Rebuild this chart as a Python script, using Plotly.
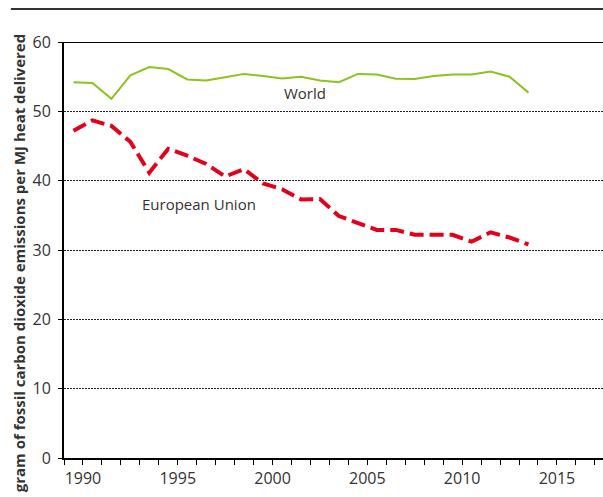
import plotly.graph_objects as go

years = list(range(1990, 2015))
world = [54.2, 54.1, 51.8, 55.2, 56.4, 56.1, 54.6, 54.45, 54.9, 55.4, 55.1, 54.75, 55.0,
         54.45, 54.2, 55.4, 55.3, 54.7, 54.65, 55.1, 55.3, 55.3, 55.75, 55.0, 52.7]
eu = [47.2, 48.7, 47.9, 45.6, 41.15, 44.6, 43.6, 42.4, 40.6, 41.65, 39.6, 38.75, 37.3,
      37.35, 34.9, 33.85, 32.9, 32.9, 32.2, 32.2, 32.2, 31.2, 32.55, 31.8, 30.8]
tick_labels = ["1990", "1995", "2000", "2005", "2010", "2015"]
y_ticks = [0, 10, 20, 30, 40, 50, 60]

FONT = "Open Sans"
TXT = "#333333"

fig = go.Figure()
fig.add_trace(go.Scatter(x=years, y=world, mode="lines",
                         line=dict(color="#8DC21F", width=2), name="World",
                         showlegend=False))
fig.add_trace(go.Scatter(x=years, y=eu, mode="lines",
                         line=dict(color="#E3001B", width=4, dash="14px,6px"),
                         name="European Union", showlegend=False))

fig.update_layout(
    width=603, height=497,
    autosize=False,
    margin=dict(l=64, r=0, t=42, b=39, autoexpand=False),
    paper_bgcolor="white", plot_bgcolor="white",
    font=dict(family=FONT, size=16, color=TXT),
    xaxis=dict(
        range=[1989.5, 2017.93],
        automargin=False,
        tickvals=[int(t) + 0.5 for t in tick_labels],
        ticktext=tick_labels,
        ticks="outside", ticklen=5, tickwidth=1.3, tickcolor="black",
        minor=dict(tick0=1989.5, dtick=1, ticks="outside", ticklen=5,
                   tickwidth=1.3, tickcolor="black", showgrid=False),
        showline=True, linecolor="black", linewidth=2,
        showgrid=False, zeroline=False,
        tickfont=dict(size=16, color=TXT),
    ),
    yaxis=dict(
        range=[0, 60],
        automargin=False,
        tickvals=y_ticks,
        ticks="outside", ticklen=4, tickwidth=1.3, tickcolor="black",
        showline=True, linecolor="black", linewidth=2,
        showgrid=True, gridcolor="#222222", gridwidth=1, griddash="1.5px,1.5px",
        zeroline=False,
        tickfont=dict(size=16, color=TXT),
        ticklabelstandoff=4,
    ),
)

# solid line at top of plot (60) and top rule
fig.add_shape(type="line", xref="paper", yref="y", x0=0, x1=1, y0=60, y1=60,
              line=dict(color="black", width=2))
fig.add_shape(type="line", xref="paper", yref="paper", x0=-0.0985, x1=1,
              y0=1.0794, y1=1.0794, line=dict(color="#333333", width=2))

fig.add_annotation(x=2002.2, y=52.6, text="World", showarrow=False,
                   font=dict(size=15, color=TXT, family=FONT))
fig.add_annotation(xref="paper", yref="paper", x=-0.0835, y=0.468,
                   xanchor="center", yanchor="middle",
                   text="<b>gram of fossil carbon dioxide emissions per MJ heat delivered</b>",
                   textangle=-90, showarrow=False,
                   font=dict(size=15, color=TXT, family=FONT))
fig.add_annotation(x=1996.6, y=36.6, text="European Union", showarrow=False,
                   font=dict(size=15, color=TXT, family=FONT))

fig.write_html("out.html",
               config={"displayModeBar": False},
               post_script="document.body.style.margin='0';document.body.style.overflow='hidden';")
